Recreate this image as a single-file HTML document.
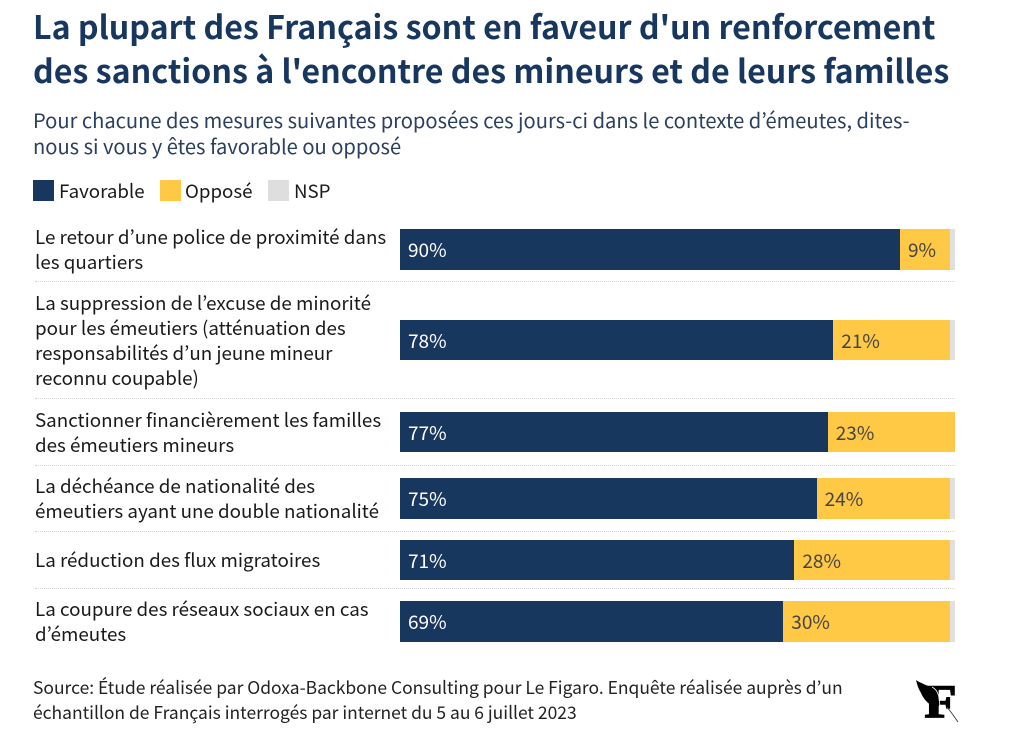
<!DOCTYPE html>
<html lang="fr">
<head>
<meta charset="utf-8">
<title>Sanctions</title>
<style>
html,body{margin:0;padding:0;background:#fff}
body{width:1019px;height:733px;position:relative;overflow:hidden;font-family:"Noto Sans CJK JP","Liberation Sans",sans-serif;}
.abs{position:absolute;white-space:nowrap}
#title{left:33px;top:4px;font-size:32.2px;font-weight:700;line-height:44px;color:#18375f}
#subtitle{left:33px;top:107px;font-size:20.13px;line-height:26px;color:#2b3f5e}
.swatch{position:absolute;top:180px;width:21px;height:21px}
.legend-label{position:absolute;top:177px;font-size:18.7px;line-height:28px;color:#1a1a1a;white-space:nowrap}
#rows{position:absolute;left:35px;top:215.5px;width:920px}
.row{display:flex;align-items:center;box-sizing:content-box;padding:7.5px 0;border-bottom:1px dotted #d4d4d4}
.row:first-child{padding:8.5px 0 6.5px}
.row:last-child{border-bottom:none}
.label{width:365px;font-size:18.77px;line-height:25.25px;color:#1a1a1a;white-space:pre;flex:none}
.bar{position:relative;height:40.5px;flex:none;width:555px;margin-left:0;overflow:hidden}
.seg{position:absolute;top:0;height:100%;box-sizing:border-box;padding-left:8px;font-size:19px;line-height:41px;white-space:nowrap;overflow:hidden}
#source{left:33px;top:676px;font-size:17.46px;line-height:24.6px;color:#222}
#logo{position:absolute;left:910px;top:672px}
</style>
</head>
<body>
<div id="title" class="abs">La plupart des Français sont en faveur d'un renforcement<br>des sanctions à l'encontre des mineurs et de leurs familles</div>
<div id="subtitle" class="abs">Pour chacune des mesures suivantes proposées ces jours-ci dans le contexte d’émeutes, dites-<br>nous si vous y êtes favorable ou opposé</div>

<div class="swatch" style="left:33px;background:#18375f"></div>
<div class="legend-label" style="left:59px">Favorable</div>
<div class="swatch" style="left:160px;background:#ffc845"></div>
<div class="legend-label" style="left:185px">Opposé</div>
<div class="swatch" style="left:268px;background:#dedede"></div>
<div class="legend-label" style="left:294px">NSP</div>

<div id="rows"></div>

<div id="source" class="abs">Source: Étude réalisée par Odoxa-Backbone Consulting pour Le Figaro. Enquête réalisée auprès d’un<br>échantillon de Français interrogés par internet du 5 au 6 juillet 2023</div>

<svg id="logo" width="52" height="54" viewBox="0 0 52 54">
  <text x="14.5" y="45" font-family="'Liberation Serif',serif" font-weight="700" font-size="47" fill="#000" stroke="#000" stroke-width="1.5" textLength="32" lengthAdjust="spacingAndGlyphs">F</text>
  <path d="M6 8 C10 11 17 13 22 16 C27 19 29 24 29 34 L24 36 C18 31 14 28 11 21 C8 16 7 12 6 8 Z" fill="#000"/>
  <path d="M22 15 C28 18 30 24 30 40" fill="none" stroke="#fff" stroke-width="0.8"/>
  <path d="M37 35 C41 40 44 44 48 50" fill="none" stroke="#444" stroke-width="1"/>
</svg>

<script>
const categories = [
  "Le retour d’une police de proximité dans\nles quartiers",
  "La suppression de l’excuse de minorité\npour les émeutiers (atténuation des\nresponsabilités d’un jeune mineur\nreconnu coupable)",
  "Sanctionner financièrement les familles\ndes émeutiers mineurs",
  "La déchéance de nationalité des\némeutiers ayant une double nationalité",
  "La réduction des flux migratoires",
  "La coupure des réseaux sociaux en cas\nd’émeutes"
];
const favorable = [90, 78, 77, 75, 71, 69];
const oppose = [9, 21, 23, 24, 28, 30];
const nsp = [1, 1, 0, 1, 1, 1];

const plotWidth = 555.5;
function xScale(v) { return v / 100 * plotWidth; }

const rowsEl = document.getElementById('rows');

function addSegment(bar, start, value, color, textColor, showLabel) {
  const seg = document.createElement('div');
  seg.className = 'seg';
  seg.style.left = xScale(start) + 'px';
  seg.style.width = xScale(value) + 'px';
  seg.style.background = color;
  seg.style.color = textColor;
  if (showLabel) seg.textContent = value + '%';
  bar.appendChild(seg);
  return seg;
}

categories.forEach(function (cat, i) {
  const row = document.createElement('div');
  row.className = 'row';
  
  

  const label = document.createElement('div');
  label.className = 'label';
  label.textContent = cat;
  
  
  row.appendChild(label);

  const bar = document.createElement('div');
  bar.className = 'bar';
  
  

  const s1 = addSegment(bar, 0, favorable[i], '#18375f', '#ffffff', true);
  
  

  const s2 = addSegment(bar, favorable[i], oppose[i], '#ffc845', '#444444', true);
  
  

  if (nsp[i] > 0) {
    const s3 = addSegment(bar, favorable[i] + oppose[i], nsp[i], '#e0e0e0', '#444444', false);
    s3.style.padding = '0';
    
    
  }

  row.appendChild(bar);
  rowsEl.appendChild(row);
});
</script>
</body>
</html>
